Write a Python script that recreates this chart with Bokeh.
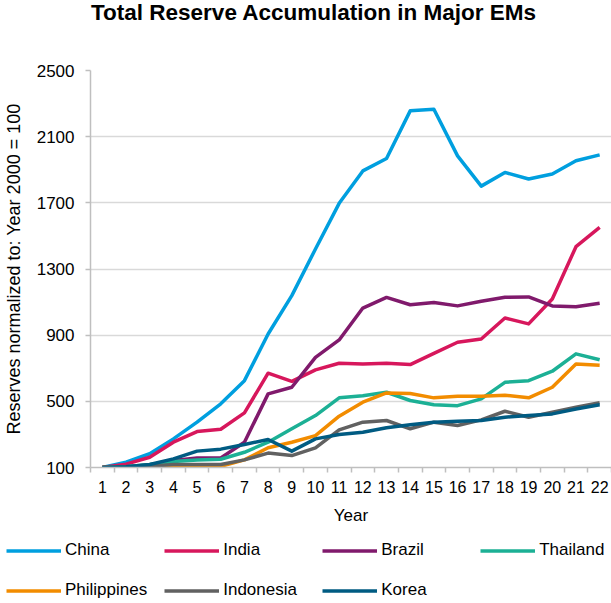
from bokeh.plotting import figure
from bokeh.layouts import column
from bokeh.models import FixedTicker, Legend, LegendItem, Div
from bokeh.embed import file_html
from bokeh.resources import INLINE

years = list(range(1, 23))
year_labels = [str(y) for y in years]
series_names = ["China", "India", "Brazil", "Thailand", "Philippines", "Indonesia", "Korea"]
china = [100, 132, 183, 273, 374, 485, 625, 907, 1139, 1421, 1697, 1893, 1968, 2256, 2266, 1984, 1801, 1884, 1844, 1874, 1954, 1990]
india = [100, 120, 162, 253, 317, 331, 430, 670, 621, 690, 730, 726, 730, 722, 790, 857, 877, 1004, 968, 1119, 1435, 1551]
brazil = [100, 105, 115, 142, 158, 157, 253, 545, 585, 766, 871, 1064, 1128, 1084, 1098, 1077, 1105, 1129, 1131, 1077, 1072, 1093]
thailand = [100, 105, 118, 136, 146, 150, 192, 253, 334, 414, 521, 534, 555, 505, 479, 474, 515, 615, 625, 682, 787, 751]
philippines = [100, 100, 103, 106, 104, 107, 146, 219, 253, 293, 410, 495, 551, 547, 521, 531, 531, 537, 521, 585, 726, 718]
indonesia = [100, 100, 108, 118, 118, 118, 146, 187, 172, 219, 327, 374, 384, 334, 374, 354, 388, 440, 404, 434, 464, 491]
korea = [100, 105, 118, 152, 199, 211, 239, 269, 199, 273, 299, 313, 340, 358, 374, 380, 384, 404, 414, 424, 454, 479]
y_ticks = [100, 500, 900, 1300, 1700, 2100, 2500]
title_text = "Total Reserve Accumulation in Major EMs"

colors = ["#009FDF", "#D7175C", "#801A6C", "#1CB095", "#F28C00", "#616161", "#005B82"]
data = [china, india, brazil, thailand, philippines, indonesia, korea]

FONT = "Liberation Sans"
GRAY = "#BFBFBF"

title = Div(text=title_text, width=611, height=30, margin=0,
            styles={"font-family": FONT, "font-size": "22.5px", "font-weight": "bold",
                    "color": "black", "line-height": "26px", "padding-left": "91px",
                    "white-space": "nowrap"})

p = figure(width=611, height=499, x_range=(0.5, 22.5), y_range=(100, 2500),
           output_backend="svg", toolbar_location=None, frame_align=False,
           min_border_left=88, min_border_right=0, min_border_top=40, min_border_bottom=62)
p.outline_line_color = None
p.background_fill_color = "white"
p.border_fill_color = "white"

for name, vals, col in zip(series_names, data, colors):
    p.line(years, vals, line_color=col, line_width=3.5, line_join="round")

# x axis
p.xaxis.ticker = FixedTicker(ticks=years, minor_ticks=[y - 0.5 for y in years] + [22.5])
p.xaxis.major_label_overrides = {y: s for y, s in zip(years, year_labels)}
p.xaxis.major_tick_line_color = None
p.xaxis.major_tick_out = 0
p.xaxis.minor_tick_out = 5
p.xaxis.minor_tick_in = 0
p.xaxis.minor_tick_line_color = GRAY
p.xaxis.minor_tick_line_width = 1.5
p.xaxis.axis_line_color = GRAY
p.xaxis.axis_line_width = 1.5
p.xaxis.major_label_text_font = FONT
p.xaxis.major_label_text_font_size = "16px"
p.xaxis.major_label_text_color = "black"
p.xaxis.major_label_standoff = 8
p.xaxis.axis_label = "Year"
p.xaxis.axis_label_text_font = FONT
p.xaxis.axis_label_text_font_size = "17px"
p.xaxis.axis_label_text_font_style = "normal"
p.xaxis.axis_label_text_color = "black"
p.xaxis.axis_label_standoff = 10

# y axis
p.yaxis.ticker = FixedTicker(ticks=y_ticks)
p.yaxis.minor_tick_line_color = None
p.yaxis.major_tick_out = 5
p.yaxis.major_tick_in = 0
p.yaxis.major_tick_line_color = GRAY
p.yaxis.major_tick_line_width = 1.5
p.yaxis.axis_line_color = GRAY
p.yaxis.axis_line_width = 1.5
p.yaxis.major_label_text_font = FONT
p.yaxis.major_label_text_font_size = "17px"
p.yaxis.major_label_text_color = "black"
p.yaxis.major_label_standoff = 11
p.yaxis.axis_label = "Reserves normalized to: Year 2000 = 100"
p.yaxis.axis_label_text_font = FONT
p.yaxis.axis_label_text_font_size = "18px"
p.yaxis.axis_label_text_font_style = "normal"
p.yaxis.axis_label_text_color = "black"
p.yaxis.axis_label_standoff = 10

p.xgrid.grid_line_color = None
p.ygrid.ticker = FixedTicker(ticks=y_ticks)
p.ygrid.grid_line_color = "#D9D9D9"
p.ygrid.grid_line_width = 1.5

# legend panel below the chart (its series lie outside its own range, so only the legend shows)
lg = figure(width=611, height=74, x_range=(-1, 0), y_range=(-1, 0),
            x_axis_type=None, y_axis_type=None, frame_align=False,
            output_backend="svg", toolbar_location=None,
            min_border_left=0, min_border_right=0, min_border_top=0, min_border_bottom=0)
lg.grid.grid_line_color = None
lg.outline_line_color = None
items = []
for name, vals, col in zip(series_names, data, colors):
    r = lg.line(years, vals, line_color=col, line_width=3.5)
    items.append(LegendItem(label=name, renderers=[r]))
legend = Legend(items=items, ncols=4, orientation="horizontal", location=(6, 1.5),
                glyph_width=55, glyph_height=23, label_height=23, label_width=82,
                label_standoff=4, spacing=17, padding=0, margin=0,
                label_text_font=FONT, label_text_font_size="17px", label_text_color="black",
                border_line_color=None, background_fill_alpha=0)
lg.add_layout(legend, "center")

layout = column(title, p, lg, spacing=0)
open("out.html", "w").write(file_html(layout, INLINE))
